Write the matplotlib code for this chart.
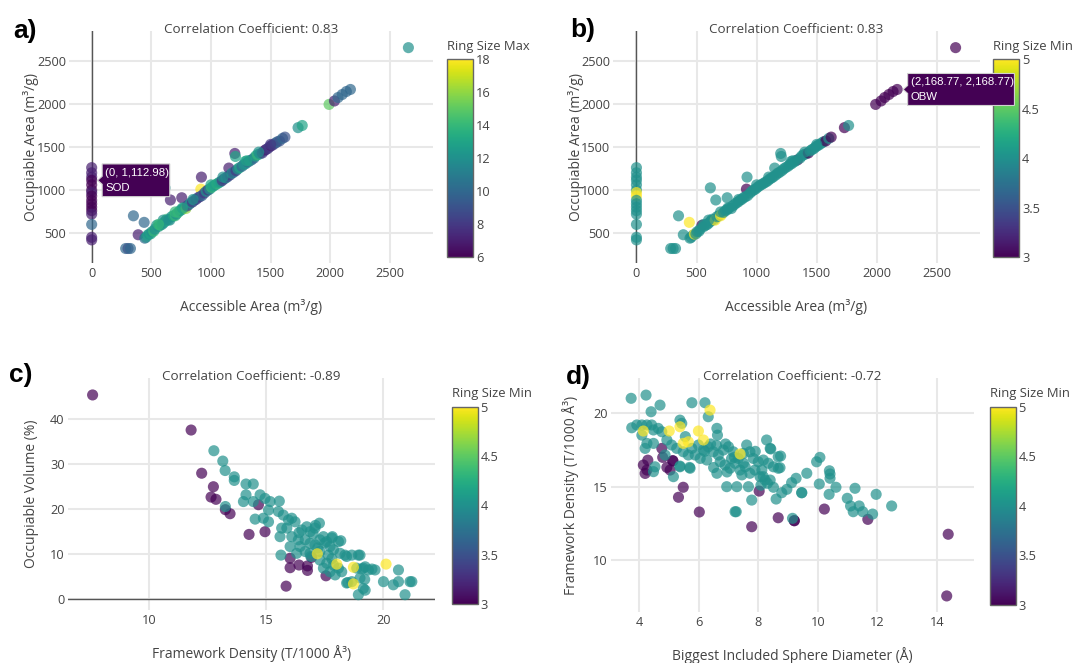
import numpy as np
import matplotlib
matplotlib.use('Agg')
import matplotlib.pyplot as plt
from matplotlib.patches import Polygon
from matplotlib.colors import Normalize
from matplotlib.cm import ScalarMappable

# ---- panels a / b : accessible vs occupiable area (same zeolites, two colourings)
acc_area = [0, 0, 0, 0, 0, 0, 0, 0, 0, 0, 0, 0, 0, 0, 0, 0,
            285, 305, 325, 350, 390, 440, 445, 660, 615, 755,
            920, 915, 1200, 1205, 1150, 1285, 1730, 1765, 1990, 2035,
            2065, 2100, 2135, 2169, 2655, 545, 1340,
            455, 470, 482, 495, 505, 520, 530, 560, 575, 590,
            605, 620, 630, 645, 655, 670, 685, 700, 710, 725,
            740, 755, 770, 790, 800, 815, 830, 845, 860, 875,
            890, 905, 925, 945, 960, 975, 990, 1005, 1020, 1035,
            1050, 1065, 1080, 1095, 1110, 1125, 1140, 1160, 1175, 1190,
            1210, 1225, 1240, 1260, 1275, 1290, 1310, 1325, 1360, 1375,
            1390, 1410, 1430, 1445, 1460, 1475, 1490, 1505, 1520, 1540,
            1555, 1575, 1600, 1620, 600, 700, 850, 1000, 1100, 1300,
            1400, 1500, 760, 560]
occ_area = [1260, 1200, 1150, 1113, 1060, 1000, 970, 930, 880, 840, 800, 760, 720, 600, 450, 420,
            320, 320, 320, 700, 480, 624, 440, 884, 1025, 910,
            1150, 1010, 1425, 1390, 1255, 1330, 1725, 1750, 1995, 2035,
            2075, 2110, 2145, 2169, 2655, 590, 1350,
            450, 475, 488, 490, 515, 520, 545, 575, 590, 600,
            620, 640, 660, 655, 650, 690, 700, 700, 720, 740,
            760, 770, 790, 785, 815, 830, 850, 860, 880, 890,
            910, 920, 935, 965, 985, 1000, 1010, 1030, 1045, 1060,
            1070, 1085, 1095, 1110, 1130, 1140, 1155, 1175, 1195, 1205,
            1225, 1245, 1260, 1275, 1295, 1305, 1325, 1340, 1370, 1395,
            1410, 1420, 1430, 1455, 1470, 1480, 1500, 1515, 1525, 1545,
            1560, 1570, 1600, 1615, 650, 745, 890, 1060, 1150, 1340,
            1440, 1530, 790, 600]
ring_max = [7, 7, 7, 6, 6, 6, 7, 6, 6, 6, 6, 6, 7, 10, 7, 7,
            10, 9, 10, 10, 7, 10, 10, 7, 12, 7,
            7, 18, 7, 13, 7, 13, 12, 13, 15, 7,
            10, 10, 10, 10, 12, 12, 9,
            12, 13, 12, 13, 12, 14, 12, 12, 14, 12,
            12, 13, 14, 12, 12, 12, 13, 14, 12, 14,
            12, 13, 12, 16, 8, 10, 12, 8, 10, 8,
            9, 8, 10, 8, 12, 8, 12, 14, 13, 12,
            14, 13, 12, 8, 8, 12, 9, 8, 12, 10,
            8, 12, 13, 10, 12, 12, 10, 12, 10, 13,
            14, 12, 8, 8, 7, 8, 8, 7, 8, 9,
            10, 9, 10, 9, 12, 14, 12, 13, 12, 13,
            12, 8, 13, 14]
ring_min_ab = [4, 4, 4, 4, 4, 4, 5, 5, 4, 4, 4, 4, 4, 4, 4, 4,
               4, 4, 4, 4, 4, 5, 4, 4, 4, 4,
               4, 3, 4, 4, 4, 4, 3, 4, 3, 3,
               3, 3, 3, 3, 3, 3, 3,
               4, 4, 5, 4, 4, 4, 4, 4, 4, 4,
               4, 4, 4, 4, 5, 4, 4, 5, 5, 4,
               4, 4, 4, 4, 4, 4, 4, 4, 4, 4,
               4, 4, 4, 4, 4, 4, 4, 4, 4, 4,
               4, 4, 4, 4, 4, 4, 4, 4, 4, 4,
               4, 4, 4, 4, 4, 4, 4, 4, 4, 4,
               4, 4, 3, 4, 4, 4, 4, 4, 4, 4,
               4, 3, 4, 3, 4, 4, 4, 4, 4, 4,
               4, 4, 4, 4]

# ---- panel c : framework density vs occupiable volume
fd_c_r3 = [7.6, 11.8, 12.25, 12.75, 12.65, 12.86, 13.26, 13.46, 14.27, 14.95,
           14.67, 15.85, 16.02, 16.02, 16.4, 16.76, 16.76, 16.94, 17.55]
ov_c_r3 = [45.4, 37.6, 28.0, 25.0, 22.7, 22.2, 19.9, 19.0, 14.4, 15.0,
           21.0, 2.9, 9.1, 7.0, 7.6, 7.4, 6.4, 9.3, 5.2]
fd_c_r4 = [12.77, 13.15, 13.25, 13.64, 13.64, 14.14, 14.45, 14.14, 14.03, 14.45,
           13.26, 14.74, 14.95, 15.17, 15.1, 14.53, 14.88, 15.1, 15.56, 15.52,
           15.73, 15.95, 16.09, 16.23, 15.88, 15.66, 15.59, 16.09, 16.02, 16.37,
           16.44, 16.52, 16.73, 16.87, 17.08, 17.27, 17.1, 16.66, 16.87, 17.08,
           17.29, 17.44, 17.58, 17.8, 17.72, 18.08, 16.3, 16.66, 16.87, 17.29,
           17.65, 17.87, 18.15, 18.36, 15.63, 17.29, 17.58, 17.87, 18.08, 18.22,
           17.94, 17.72, 17.44, 18.43, 18.65, 18.93, 18.86, 19.14, 19.36, 19.64,
           18.43, 18.65, 19.0, 19.14, 18.93, 20.0, 20.42, 20.64, 20.92, 21.13,
           20.64, 18.18, 19.0, 19.22, 19.2, 19.51, 18.48, 17.0, 17.5, 16.4,
           17.2, 16.9, 17.8, 19.22, 19.07, 21.21, 17.82]
ov_c_r4 = [33.0, 30.7, 28.6, 27.2, 26.4, 25.6, 25.6, 23.2, 21.7, 21.7,
           20.6, 23.2, 22.4, 21.7, 19.8, 17.8, 18.0, 17.2, 21.8, 19.5,
           18.7, 17.6, 18.0, 17.2, 15.8, 15.8, 13.9, 13.9, 11.7, 13.2,
           11.7, 15.4, 16.1, 15.0, 15.8, 16.9, 16.4, 13.2, 12.4, 12.1,
           13.2, 13.9, 12.8, 13.6, 11.7, 12.8, 10.2, 10.6, 10.2, 10.6,
           9.8, 11.0, 10.2, 9.8, 9.8, 8.7, 8.0, 7.6, 6.9, 6.1,
           5.4, 6.1, 6.9, 9.5, 9.8, 9.8, 6.9, 6.9, 6.5, 6.5,
           3.6, 3.9, 4.7, 2.4, 1.0, 3.9, 3.2, 3.9, 1.0, 3.9,
           6.5, 13.0, 9.8, 2.0, 4.4, 6.7, 3.7, 14.5, 12.5, 14.8,
           11.4, 9.5, 9.0, 7.2, 6.7, 3.9, 13.9]
fd_c_r5 = [17.18, 18.01, 18.72, 18.72, 20.11]
ov_c_r5 = [10.1, 7.8, 7.1, 3.4, 7.8]

# ---- panel d : biggest included sphere vs framework density
bis_d_r3 = [4.76, 4.29, 4.14, 4.26, 4.2, 4.79, 5.13, 5.13, 4.93, 5.04,
            5.48, 5.32, 6.02, 7.78, 8.03, 8.67, 9.21, 9.21, 10.22, 11.68,
            14.38, 14.33]
fd_d_r3 = [17.6, 16.8, 16.47, 16.13, 15.9, 16.99, 16.76, 16.76, 16.31, 16.13,
           14.96, 14.28, 13.28, 12.28, 14.7, 12.89, 12.69, 12.69, 13.48, 12.78,
           11.77, 7.58]
bis_d_r4 = [3.73, 4.23, 4.4, 4.7, 3.75, 3.92, 4.09, 4.26, 4.42, 4.09,
            4.48, 4.64, 4.76, 4.2, 4.48, 4.26, 4.53, 4.48, 5.15, 5.37,
            5.69, 7.22, 5.37, 5.43, 5.77, 6.21, 6.32, 6.61, 6.63, 5.77,
            5.99, 6.16, 6.32, 6.49, 6.66, 6.83, 7.0, 7.16, 7.33, 7.5,
            7.61, 7.72, 7.83, 8.0, 8.17, 8.34, 8.51, 8.67, 6.72, 6.88,
            7.05, 7.22, 7.39, 7.56, 7.72, 7.89, 8.06, 8.23, 8.4, 6.94,
            7.28, 7.67, 7.78, 8.28, 8.4, 8.67, 6.61, 5.71, 6.05, 6.27,
            5.88, 4.93, 5.09, 5.26, 4.87, 5.48, 5.65, 5.37, 8.42, 8.75,
            8.73, 8.12, 8.17, 8.31, 8.51, 8.6, 8.79, 8.96, 9.12, 9.27,
            9.46, 9.46, 9.63, 9.96, 10.07, 10.05, 10.39, 10.41, 10.41, 10.61,
            10.38, 11.25, 10.99, 11.1, 11.19, 11.39, 11.51, 11.84, 11.96, 12.48,
            9.15, 7.26, 8.09, 6.4, 6.9, 7.1, 6.5, 7.5, 6.95, 7.45,
            6.2, 5.55, 7.9, 6.6, 7.2]
fd_d_r4 = [21.0, 21.22, 20.09, 20.54, 19.0, 19.19, 19.19, 19.19, 19.19, 18.5,
           18.85, 18.96, 18.73, 17.6, 17.94, 17.94, 16.35, 16.02, 15.68, 16.35,
           16.31, 13.3, 19.52, 19.3, 20.7, 20.7, 19.75, 18.96, 18.5, 17.6,
           17.83, 17.49, 17.71, 17.37, 17.15, 17.49, 17.71, 17.37, 16.92, 17.26,
           17.83, 17.37, 16.92, 16.69, 16.81, 16.59, 16.35, 16.25, 16.69, 16.47,
           16.25, 16.59, 16.13, 16.35, 15.91, 16.13, 15.68, 15.45, 15.45, 15.0,
           15.0, 15.0, 14.09, 18.17, 17.6, 17.03, 15.91, 16.25, 16.92, 16.81,
           17.15, 18.17, 17.83, 17.6, 17.15, 17.37, 17.15, 16.4, 17.56, 17.08,
           16.29, 16.13, 15.68, 15.23, 14.96, 14.16, 14.59, 14.82, 15.27, 15.57,
           14.59, 14.59, 15.91, 16.69, 16.99, 15.18, 16.08, 15.86, 15.57, 14.96,
           14.48, 14.89, 14.21, 13.69, 13.3, 13.69, 13.3, 13.14, 14.48, 13.69,
           12.85, 13.3, 15.1, 17.9, 17.9, 16.9, 16.3, 16.6, 16.0, 15.8,
           17.4, 18.4, 17.4, 17.8, 17.0]
bis_d_r5 = [4.14, 5.01, 5.37, 5.99, 6.38, 5.65, 5.48, 6.16, 7.39]
fd_d_r5 = [18.78, 18.78, 19.07, 18.78, 20.2, 18.05, 17.94, 18.17, 17.22]

W, H = 1077, 663
TXT = '#444444'
plt.rcParams['font.family'] = ['Open Sans', 'DejaVu Sans']

FS_TICK = 9.2
FS_LAB = 10
FS_TITLE = 9.6
FS_CBT = 9.4


def rect(x0, y0, x1, y1):
    # pixel box (top-down) -> figure fraction
    return [x0 / W, 1 - y1 / H, (x1 - x0) / W, (y1 - y0) / H]


def style_axes(ax, xlim, ylim, xticks, yticks, xlabel, ylabel, xlab_off, ylab_off):
    ax.set_xlim(*xlim)
    ax.set_ylim(*ylim)
    ax.set_xticks(xticks)
    ax.set_yticks(yticks)
    for s in ax.spines.values():
        s.set_visible(False)
    ax.grid(color='#e8e8e8', lw=1.5)
    ax.set_axisbelow(True)
    ax.tick_params(length=0, colors=TXT, labelsize=FS_TICK, pad=3)
    ax.tick_params(axis='y', pad=2)
    ax.set_xlabel(xlabel, color=TXT, fontsize=FS_LAB, va='center')
    ax.set_ylabel(ylabel, color=TXT, fontsize=FS_LAB, va='center')
    ax.xaxis.set_label_coords(0.5, xlab_off)
    ax.yaxis.set_label_coords(ylab_off, 0.5)


def add_cbar(fig, box, vmin, vmax, ticks, labels, title, title_y):
    cax = fig.add_axes(rect(*box))
    sm = ScalarMappable(norm=Normalize(vmin, vmax), cmap='viridis')
    cb = fig.colorbar(sm, cax=cax, ticks=ticks)
    cb.ax.set_yticklabels(labels)
    cb.ax.tick_params(length=0, colors=TXT, labelsize=FS_TICK, pad=2)
    cb.outline.set_edgecolor('#666666')
    cb.outline.set_linewidth(1)
    fig.text(box[0] / W, 1 - title_y / H, title, color=TXT, fontsize=FS_CBT, va='center', ha='left')


def hover(fig, ax, x, y, lines, w, h, color='#440154'):
    px, py = ax.transData.transform((x, y))
    tip = px + 6
    left = px + 10.5
    pts = [(tip, py), (left, py + 4), (left, py + h / 2), (left + w, py + h / 2),
           (left + w, py - h / 2), (left, py - h / 2), (left, py - 4)]
    pts = [(a / W, b / H) for a, b in pts]
    fig.add_artist(Polygon(pts, closed=True, facecolor=color, edgecolor='#d0d0d0', lw=0.8,
                           transform=fig.transFigure, zorder=20))
    fig.text((left + 3) / W, (py + 7) / H, lines[0], color='white', fontsize=8.2,
             family='Liberation Sans', va='center', zorder=21)
    fig.text((left + 3) / W, (py - 7.5) / H, lines[1], color='white', fontsize=8.2,
             family='Liberation Sans', va='center', zorder=21)


def title(xc, yc, text):
    fig.text(xc / W, 1 - yc / H, text, color=TXT, fontsize=FS_TITLE, ha='center', va='center')


def panel_tag(x, y, text):
    fig.text(x / W, 1 - y / H, text, fontsize=19, fontweight='bold', family='Liberation Sans', va='center')


fig = plt.figure(figsize=(W / 100, H / 100), dpi=100)
mk = dict(cmap='viridis', s=64, alpha=0.7, edgecolors='none', zorder=3)
ring_ticks = [3, 3.5, 4, 4.5, 5]
ring_labels = ['3', '3.5', '4', '4.5', '5']

# a)
ax_a = fig.add_axes(rect(69, 30.7, 432.5, 263.3))
ax_a.axvline(0, color='#555555', lw=1, zorder=2)
ax_a.scatter(acc_area, occ_area, c=ring_max, vmin=6, vmax=18, **mk)
style_axes(ax_a, (-190, 2857), (148, 2852), range(0, 2501, 500), range(500, 2501, 500),
           'Accessible Area (m³/g)', 'Occupiable Area (m³/g)', -0.189, -0.105)
add_cbar(fig, (447.4, 59.3, 473.4, 257.3), 6, 18, range(6, 19, 2),
         [str(t) for t in range(6, 19, 2)], 'Ring Size Max', 46.7)
title(251, 29.3, 'Correlation Coefficient: 0.83')
panel_tag(13, 31, 'a)')

# b)
ax_b = fig.add_axes(rect(613, 30.7, 980, 263.3))
ax_b.axvline(0, color='#555555', lw=1, zorder=2)
ax_b.scatter(acc_area, occ_area, c=ring_min_ab, vmin=3, vmax=5, **mk)
style_axes(ax_b, (-195, 2858), (148, 2852), range(0, 2501, 500), range(500, 2501, 500),
           'Accessible Area (m³/g)', 'Occupiable Area (m³/g)', -0.189, -0.101)
add_cbar(fig, (993, 59.3, 1019.2, 257.3), 3, 5, ring_ticks, ring_labels, 'Ring Size Min', 46.7)
title(796.5, 29.3, 'Correlation Coefficient: 0.83')
panel_tag(570, 30, 'b)')

# c)
ax_c = fig.add_axes(rect(67.5, 378.3, 435.3, 610))
ax_c.axhline(0, color='#555555', lw=1, zorder=2)
fd_c = fd_c_r3 + fd_c_r4 + fd_c_r5
ov_c = ov_c_r3 + ov_c_r4 + ov_c_r5
ring_c = [3] * len(fd_c_r3) + [4] * len(fd_c_r4) + [5] * len(fd_c_r5)
ax_c.scatter(fd_c, ov_c, c=ring_c, vmin=3, vmax=5, **mk)
style_axes(ax_c, (6.53, 22.21), (-2.4, 49.1), [10, 15, 20], [0, 10, 20, 30, 40],
           'Framework Density (T/1000 Å³)', 'Occupiable Volume (%)', -0.187, -0.099)
add_cbar(fig, (451.6, 406.7, 477.5, 604), 3, 5, ring_ticks, ring_labels, 'Ring Size Min', 393.3)
title(251.4, 376.7, 'Correlation Coefficient: -0.89')
panel_tag(9, 375, 'c)')

# d)
ax_d = fig.add_axes(rect(610.6, 378.3, 974.4, 611.7))
bis_d = bis_d_r3 + bis_d_r4 + bis_d_r5
fd_d = fd_d_r3 + fd_d_r4 + fd_d_r5
ring_d = [3] * len(bis_d_r3) + [4] * len(bis_d_r4) + [5] * len(bis_d_r5)
ax_d.scatter(bis_d, fd_d, c=ring_d, vmin=3, vmax=5, **mk)
style_axes(ax_d, (3.04, 15.26), (6.51, 22.36), [4, 6, 8, 10, 12, 14], [10, 15, 20],
           'Biggest Included Sphere Diameter (Å)', 'Framework Density (T/1000 Å³)', -0.186, -0.109)
add_cbar(fig, (990, 406.7, 1015.7, 605), 3, 5, ring_ticks, ring_labels, 'Ring Size Min', 393.3)
title(792.5, 376.7, 'Correlation Coefficient: -0.72')
panel_tag(566, 376.7, 'd)')

# hover labels
hover(fig, ax_a, 0, 1112.98, ['(0, 1,112.98)', 'SOD'], 67.6, 32.7)
hover(fig, ax_b, 2168.77, 2168.77, ['(2,168.77, 2,168.77)', 'OBW'], 106.8, 32)

fig.savefig('out.png', dpi=100)
